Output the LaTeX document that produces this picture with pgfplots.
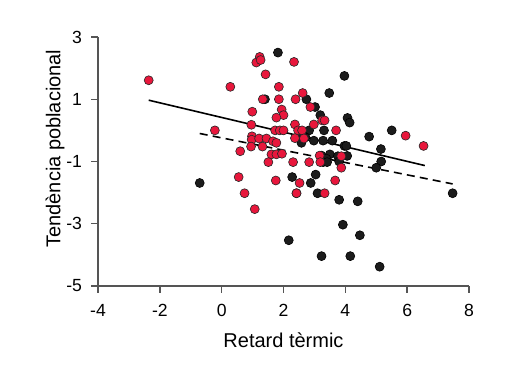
\documentclass[border=0pt]{standalone}
\usepackage{pgfplots}
\pgfplotsset{compat=1.18}
\usepackage{fontspec}
\setmainfont{Liberation Sans}
\definecolor{redpt}{HTML}{E8173C}
\definecolor{blkpt}{HTML}{1C1C1C}
\definecolor{axgray}{HTML}{555555}
\begin{document}
\begin{tikzpicture}
\useasboundingbox (-49pt,-42.5pt) rectangle (211pt,143pt);
\begin{axis}[
  at={(0,0)}, anchor=south west,
  scale only axis, width=185.5pt, height=124.5pt,
  xmin=-4, xmax=8, ymin=-5, ymax=3,
  xtick={-4,-2,0,2,4,6,8}, ytick={-5,-3,-1,1,3},
  axis lines=left,
  axis line style={-, draw=axgray, line width=0.7pt},
  tick align=outside, major tick length=3.3pt,
  tick style={draw=axgray, line width=0.7pt},
  /pgf/number format/assume math mode=true,
  tick label style={font=\fontsize{8.8}{10}\selectfont},
  xticklabel style={yshift=-2.5pt},
  yticklabel style={xshift=-1.2pt},
  label style={font=\fontsize{10}{12}\selectfont},
  xlabel={Retard tèrmic},
  ylabel={Tendència poblacional},
  xlabel style={at={(axis description cs:0.5,-0.216)},anchor=center},
  ylabel style={at={(axis description cs:-0.116,0.552)},anchor=center},
  clip=false,
]
\addplot[black, line width=0.8pt] coordinates {(-2.36,0.97) (6.57,-1.13)};
\addplot[black, line width=0.8pt, dash pattern=on 4pt off 2.6pt] coordinates {(-0.71,-0.1) (7.47,-1.72)};
\addplot[only marks, mark=*, mark size=2.25pt, mark options={fill=blkpt, draw=black, line width=0.3pt}] coordinates {
(1.82,2.5) (1.4,1.0) (-0.71,-1.69) (2.17,-3.53) (3.97,1.75) (3.48,1.2) (2.74,1.0) (3.02,0.75)
(3.19,0.49) (4.07,0.40) (4.14,0.25) (2.83,0.0) (3.31,0.0) (5.5,0.0) (4.77,-0.2) (2.71,-0.22)
(2.58,-0.40) (2.98,-0.33) (3.28,-0.33) (3.58,-0.33) (3.97,-0.5) (4.03,-0.5) (5.15,-0.6)
(3.23,-0.81) (3.5,-0.77) (3.39,-0.91) (3.76,-0.83) (4.06,-0.82) (5.16,-1.0) (5.0,-1.2)
(3.28,-1.02) (3.41,-1.02) (3.8,-1.0) (3.04,-1.42) (2.28,-1.5) (2.88,-1.69) (2.42,-2.02)
(3.1,-2.02) (3.8,-2.23) (4.4,-2.28) (7.47,-2.02) (3.92,-3.03) (4.47,-3.37) (3.23,-4.04)
(4.16,-4.04) (5.11,-4.38) (2.62,-0.16)
};
\addplot[only marks, mark=*, mark size=2.25pt, mark options={fill=redpt, draw=black!85, line width=0.3pt}] coordinates {
(-2.36,1.61) (0.28,1.40) (-0.22,0.0) (0.6,-0.67) (1.23,2.36) (1.12,2.18) (1.26,2.26) (1.42,1.8)
(1.85,1.4) (1.33,1.0) (1.85,1.0) (0.99,0.6) (1.94,0.67) (2.0,0.49) (1.77,0.41) (0.96,0.18)
(1.73,0.0) (1.88,0.0) (2.0,0.0) (0.98,-0.19) (0.97,-0.30) (1.21,-0.26) (1.45,-0.26) (1.66,-0.35)
(1.77,-0.40) (0.95,-0.52) (1.32,-0.52) (1.61,-0.77) (1.77,-0.77) (1.95,-0.75) (1.51,-1.02)
(0.55,-1.5) (1.75,-1.61) (0.74,-2.02) (1.07,-2.53) (2.34,2.2) (2.39,1.0) (2.62,1.2) (2.87,0.75)
(3.25,0.32) (3.33,0.32) (2.37,0.19) (2.98,0.19) (2.47,0.0) (2.6,0.0) (3.7,0.0) (5.95,-0.17)
(2.37,-0.25) (2.66,-0.26) (6.53,-0.5) (3.17,-0.81) (3.87,-0.83) (2.31,-1.02) (2.83,-1.02)
(3.19,-1.02) (3.87,-1.2) (2.52,-1.69) (3.67,-1.61) (2.42,-2.02) (3.33,-2.02)
};
\end{axis}
\end{tikzpicture}
\end{document}
